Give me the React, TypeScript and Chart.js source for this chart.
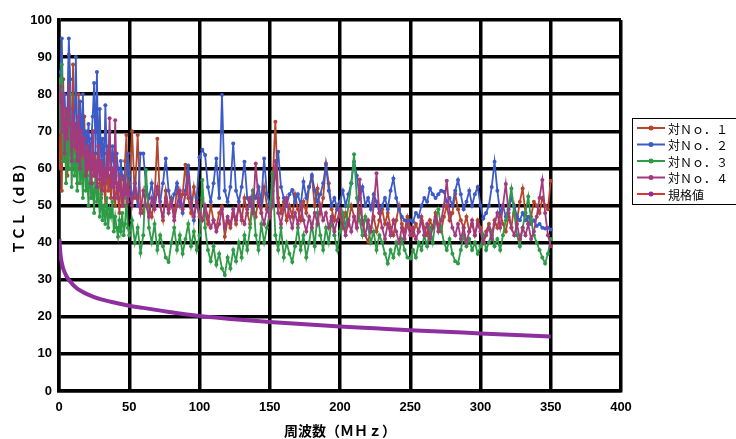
import { useEffect, useRef } from 'react';
import { Chart, registerables } from 'chart.js';

Chart.register(...registerables);

const FREQ = [
  0.5, 1, 2, 3, 4, 5, 6, 7, 8, 9,
  10, 11, 12, 13, 14, 15, 16, 17, 18, 19,
  20, 21, 22, 23, 24, 25, 26, 27, 28, 29,
  30, 31, 32, 33, 34, 35, 36, 37, 38, 39,
  40, 41, 42, 43, 44, 45, 46, 47, 48, 49,
  50, 52, 54, 56, 58, 60, 62, 64, 66, 68,
  70, 72, 74, 76, 78, 80, 82, 84, 86, 88,
  90, 92, 94, 96, 98, 100, 102, 104, 106, 108,
  110, 112, 114, 116, 118, 120, 122, 124, 126, 128,
  130, 132, 134, 136, 138, 140, 142, 144, 146, 148,
  150, 152, 154, 156, 158, 160, 162, 164, 166, 168,
  170, 172, 174, 176, 178, 180, 182, 184, 186, 188,
  190, 192, 194, 196, 198, 200, 202, 204, 206, 208,
  210, 212, 214, 216, 218, 220, 222, 224, 226, 228,
  230, 232, 234, 236, 238, 240, 242, 244, 246, 248,
  250, 252, 254, 256, 258, 260, 262, 264, 266, 268,
  270, 272, 274, 276, 278, 280, 282, 284, 286, 288,
  290, 292, 294, 296, 298, 300, 302, 304, 306, 308,
  310, 312, 314, 316, 318, 320, 322, 324, 326, 328,
  330, 332, 334, 336, 338, 340, 342, 344, 346, 348, 350,
];

const PAIR1 = [
  60, 78, 54, 84, 62, 76, 58, 90.6, 70, 60,
  88, 64, 72, 56, 80, 62, 68, 58, 74, 60,
  56, 66, 60, 52, 70, 58, 64, 55, 68, 56,
  52, 62, 56, 50, 66, 54, 58, 52, 60, 55,
  50, 56, 52, 48, 58, 53, 50, 62, 69, 54,
  56, 70, 52, 69, 50, 48, 54, 50, 47, 52,
  68, 50, 46, 54, 49, 52, 47, 55, 50, 53,
  61, 52, 48, 55, 50, 47, 52, 48, 45, 50,
  46, 44, 48, 49.7, 41.6, 46, 44, 48, 45, 50,
  46, 52, 48, 45, 50, 47, 52, 48, 55, 50,
  47, 56, 72.6, 52, 48, 51, 46, 50, 47, 53,
  49, 46, 51, 48, 55, 57.7, 50, 54.6, 48, 52,
  61.3, 56, 49, 46, 50, 47, 44, 48, 45, 50,
  47, 44, 49, 46, 42, 40.2, 44, 47, 43, 46,
  49, 45, 48, 44, 42, 46, 50, 45, 43, 47,
  44, 42, 45, 43, 47, 44, 42, 46, 44, 48,
  45, 43, 47, 50, 46, 48, 53.2, 49, 46, 44,
  47, 43, 45, 42, 46, 44, 40, 43, 45, 42,
  46, 44, 48, 45, 43, 47, 44, 50, 46, 51,
  54.6, 48, 45, 47, 51, 50, 48, 52, 50, 49, 56.7,
];

const PAIR2 = [
  74, 86, 95, 72, 80, 68, 76, 95, 84, 66,
  74, 70, 90, 64, 72, 78, 66, 80, 62, 70,
  66, 72, 62, 68, 74, 83, 64, 86, 60, 76,
  62, 68, 58, 77, 64, 60, 70, 58, 66, 62,
  56, 64, 60, 55, 62, 58, 57, 54, 60, 64,
  58, 52, 56, 50, 64, 64, 55, 52, 56, 50,
  54, 51, 56, 62.7, 54, 50, 53, 56, 51, 48,
  54, 60.8, 52, 46, 52, 63, 65, 63.6, 55, 51,
  56, 62.7, 52, 79.8, 54, 51, 55, 66.7, 54, 51,
  55, 61.8, 52, 50, 54, 52, 55, 51, 62.7, 53,
  50, 54, 58, 64.5, 55, 52, 50, 53, 54.2, 51,
  53, 50, 56.4, 52, 55, 58.2, 54, 51, 53, 56,
  60.9, 54, 50, 52, 49, 51, 54, 50, 53, 56,
  61.8, 58, 52, 55, 50, 52, 49, 53, 51, 48,
  50, 52, 49, 54, 57.3, 52, 49, 47, 46, 45.5,
  46, 45.6, 48, 47, 50, 52, 51, 54.6, 53, 52,
  53, 54, 53.7, 51, 52, 50, 54, 56.9, 53, 49,
  51, 54, 50, 53, 55, 50, 46.5, 48, 50, 55,
  61.8, 54, 48, 50, 47, 49, 52, 49.7, 47, 46,
  48, 46, 47, 45, 46, 44.5, 45, 44, 43.8, 44, 43.5,
];

const PAIR3 = [
  84, 70, 88, 62, 76, 56, 72, 60, 80, 55,
  68, 58, 64, 54, 70, 56, 62, 52, 66, 54,
  58, 50, 62, 52, 56, 48, 60, 51, 55, 47,
  53, 46, 50, 45, 52, 44, 49, 47, 51, 43,
  47, 44, 41.6, 46, 43, 48, 42, 45, 52, 44,
  42, 46, 40, 44, 37.2, 42, 59.6, 44, 40, 45,
  38, 42, 39, 36, 34.8, 40, 44, 38, 42, 37,
  41, 45, 39, 43, 38, 42, 56.9, 44, 38, 35,
  39, 34, 37, 33, 31.3, 36, 33, 38, 35, 40,
  36, 42, 38, 44, 54, 42, 38, 45, 40, 44,
  48, 58.7, 42, 38, 44, 36, 40, 37, 34.8, 39,
  44, 38, 42, 36, 40, 45, 39, 48, 42, 38,
  44, 40, 46, 42, 38, 43, 48, 44, 50, 56,
  63.8, 52, 46, 42, 47, 44, 40, 43, 38, 42,
  40, 37, 34.4, 38, 36, 40, 37, 41, 38, 36,
  35.7, 38, 36, 40, 38, 42, 39, 44, 40, 46,
  49, 44, 40, 38, 41, 37, 35, 34.4, 38, 42,
  39, 41, 38, 40, 37, 39, 42, 38, 40, 43,
  39, 41, 38, 42, 46, 50, 54.6, 48, 42, 39,
  44, 48, 52.4, 46, 42, 40, 38, 36, 34.4, 37, 41,
];

const PAIR4 = [
  78, 82, 70, 80, 64, 76, 68, 82, 72, 62,
  76, 66, 72, 62, 74, 60, 70, 64, 68, 58,
  66, 60, 64, 56, 70, 58, 62, 55, 66, 57,
  62, 54, 60, 56, 64, 58, 73.5, 55, 60, 52,
  73, 56, 52, 58, 54, 50, 57, 53, 55, 51,
  54, 50, 56, 52, 48, 54, 50, 47, 52, 49,
  55, 50, 47, 52, 48, 51, 46, 50, 54, 49,
  53, 57.7, 50, 47, 51, 48, 46, 50, 47, 44,
  46, 43, 45, 49, 44, 47, 45, 49, 46, 50,
  47, 45, 49, 52, 48, 61.3, 51, 48, 45, 49,
  47, 50, 62, 48, 45, 49, 52, 47, 44, 48,
  45, 50, 46, 43, 47, 44, 48, 45, 50, 46,
  48, 44, 47, 43, 46, 49, 45, 42, 46, 43,
  47, 44, 57, 45, 42, 46, 43, 50, 58.7, 48,
  44, 41, 45, 42, 46, 43, 40, 44, 41, 45,
  42, 44, 41, 43, 46, 42, 45, 41, 44, 47,
  43, 46, 50, 56.7, 48, 44, 42, 45, 41, 44,
  40, 43, 46, 42, 45, 43, 40, 42, 44, 41,
  45, 48, 44, 50, 55.8, 48, 44, 42, 45, 41,
  44, 42, 45, 41, 43, 47, 52, 56.9, 48, 42, 39,
];

const LIMIT_FREQ = [0.3, 0.5, 1, 1.5, 2, 3, 4, 5, 6, 8, 10, 13, 16, 20, 25, 30, 40, 50, 60, 70, 80, 100, 120, 150, 175, 200, 225, 250, 275, 300, 325, 350];
const LIMIT_VALUES = [41, 39.5, 37, 35.5, 34.5, 33, 32, 31.2, 30.5, 29.5, 28.6, 27.6, 26.9, 26.1, 25.3, 24.7, 23.8, 23.0, 22.4, 21.8, 21.2, 20.2, 19.5, 18.6, 18.0, 17.4, 16.9, 16.4, 16.0, 15.5, 15.1, 14.7];

const SERIES_NAMES = ['対Ｎｏ．１', '対Ｎｏ．２', '対Ｎｏ．３', '対Ｎｏ．４', '規格値'];
const SERIES_COLORS = ['#B5452B', '#3C5BC6', '#2E9B47', '#A33A7E', '#8E2FA0'];
const LEGEND_LINE_COLORS = ['#B5452B', '#3C5BC6', '#2E9B47', '#A33A7E', '#E0352E'];

const X_TITLE = '周波数（ＭＨｚ）';
const Y_TITLE = 'ＴＣＬ（ｄＢ）';

const legendPlugin = {
  id: 'boxLegend',
  afterDraw(chart: any) {
    const ctx = chart.ctx;
    ctx.save();
    const left = 632;
    const top = 118;
    const w = 110;
    const h = 86;
    ctx.fillStyle = '#fff';
    ctx.fillRect(left, top, w, h);
    ctx.strokeStyle = '#000';
    ctx.lineWidth = 1;
    ctx.strokeRect(left + 0.5, top + 0.5, w, h);
    ctx.font = '12px "Noto Sans CJK JP"';
    ctx.textBaseline = 'middle';
    ctx.textAlign = 'left';
    SERIES_NAMES.forEach((name, i) => {
      const y = top + 10 + i * 16.5;
      ctx.strokeStyle = LEGEND_LINE_COLORS[i];
      ctx.lineWidth = 2;
      ctx.beginPath();
      ctx.moveTo(left + 5, y);
      ctx.lineTo(left + 33, y);
      ctx.stroke();
      ctx.fillStyle = SERIES_COLORS[i];
      ctx.beginPath();
      ctx.arc(left + 19, y, 2.5, 0, Math.PI * 2);
      ctx.fill();
      ctx.fillStyle = '#000';
      ctx.fillText(name, left + 36, y + 1);
    });
    ctx.restore();
  },
};

export default function App() {
  const canvasRef = useRef<HTMLCanvasElement | null>(null);

  useEffect(() => {
    const canvas = canvasRef.current;
    if (!canvas) return;
    const pairs = [PAIR1, PAIR2, PAIR3, PAIR4];
    const datasets: any[] = pairs.map((vals, i) => ({
      label: SERIES_NAMES[i],
      data: FREQ.map((f, j) => ({ x: f, y: vals[j] })),
      borderColor: SERIES_COLORS[i],
      backgroundColor: SERIES_COLORS[i],
      borderWidth: 1.8,
      pointRadius: 2,
      pointBorderWidth: 0,
      pointHoverRadius: 2,
      fill: false,
      tension: 0,
      order: 4 - i,
    }));
    datasets.push({
      label: SERIES_NAMES[4],
      data: LIMIT_FREQ.map((f, j) => ({ x: f, y: LIMIT_VALUES[j] })),
      borderColor: SERIES_COLORS[4],
      backgroundColor: SERIES_COLORS[4],
      borderWidth: 4,
      pointRadius: 0,
      fill: false,
      cubicInterpolationMode: 'monotone',
      order: 0,
    });

    const tickFont = { family: '"Liberation Sans", Arial, sans-serif', size: 13, weight: 'bold' as const };
    const titleFont = { family: '"Noto Sans CJK JP", sans-serif', size: 14, weight: 'bold' as const };

    const chart = new Chart(canvas, {
      type: 'line',
      data: { datasets },
      plugins: [legendPlugin],
      options: {
        responsive: false,
        animation: false,
        devicePixelRatio: 1,
        layout: { padding: { top: 20, right: 115, left: 0, bottom: 0 } },
        plugins: {
          legend: { display: false },
          tooltip: { enabled: false },
        },
        scales: {
          x: {
            type: 'linear',
            min: 0,
            max: 400,
            ticks: {
              stepSize: 10,
              autoSkip: false,
              maxRotation: 0,
              padding: 9,
              color: '#000',
              font: tickFont,
              callback: (v: any) => (Number(v) % 50 === 0 ? String(v) : null),
            },
            grid: {
              drawTicks: false,
              color: (c: any) => (c.tick && c.tick.value % 50 === 0 ? '#000' : '#a8a8a8'),
              lineWidth: (c: any) => (c.tick && c.tick.value % 50 === 0 ? 3.5 : 1),
            },
            border: { display: true, color: '#000', width: 3.5 },
            title: { display: true, text: X_TITLE, color: '#000', font: titleFont, padding: { top: 0, bottom: 0 } },
            afterFit: (s: any) => {
              s.height = 48;
            },
          },
          y: {
            type: 'linear',
            min: 0,
            max: 100,
            ticks: {
              stepSize: 10,
              padding: 7,
              color: '#000',
              font: tickFont,
            },
            grid: {
              drawTicks: false,
              color: '#000',
              lineWidth: 3.5,
            },
            border: { display: true, color: '#000', width: 3.5 },
            title: { display: true, text: Y_TITLE, color: '#000', font: titleFont, padding: { top: 10, bottom: 0 } },
            afterFit: (s: any) => {
              s.width = 59;
            },
          },
        },
      } as any,
    });
    return () => chart.destroy();
  }, []);

  return (
    <div style={{ position: 'fixed', left: 0, top: 0, width: 736, height: 439, background: '#fff' }}>
      <canvas ref={canvasRef} width={736} height={439} />
    </div>
  );
}
